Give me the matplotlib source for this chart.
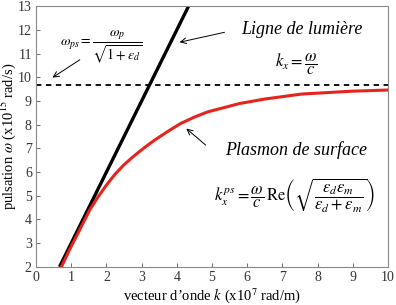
import matplotlib
matplotlib.use("Agg")
import matplotlib.pyplot as plt

plt.rcParams['font.family'] = ['Liberation Serif', 'DejaVu Serif']
plt.rcParams['mathtext.fontset'] = 'stix'

# light line  omega = c k
k_light = [2 / 3, 13 / 3]
w_light = [2.0, 13.0]

# surface plasmon dispersion
k_sp = [0.72, 0.95, 1.14, 1.52, 1.76, 2.0, 2.24, 2.48, 2.72, 2.95, 3.16, 3.38,
        3.75, 4.11, 4.5, 4.88, 5.78, 6.5, 7.54, 8.97, 10.0]
w_sp = [2.0, 2.72, 3.27, 4.39, 4.95, 5.45, 5.9, 6.28, 6.6, 6.88, 7.12, 7.36,
        7.72, 8.05, 8.32, 8.54, 8.89, 9.08, 9.29, 9.41, 9.46]

w_ps = 9.67

xticks = list(range(0, 11))
yticks = list(range(2, 14))

fig = plt.figure(figsize=(3.96, 3.05), dpi=100)
ax = fig.add_axes([0.091, 0.125, 0.889, 0.855])

ax.plot(k_light, w_light, color='black', lw=2.4, solid_capstyle='butt')
ax.plot(k_sp, w_sp, color='#e8221c', lw=2.2, solid_joinstyle='round')
ax.axhline(w_ps, color='black', lw=1.3, ls=(0, (3, 2.5)))

ax.set_xlim(0, 10)
ax.set_ylim(2, 13)
ax.set_xticks(xticks)
ax.set_yticks(yticks)
ax.tick_params(direction='in', length=3, width=0.6, labelsize=10,
               colors='#555555', labelcolor='#333333', pad=3)
for s in ax.spines.values():
    s.set_color('#888888')
    s.set_linewidth(0.8)

ax.set_xlabel(r"vecteur d’onde $k$ (x10$^{7}$ rad/m)", fontsize=10.5)
ax.set_ylabel(r"pulsation $\omega$ (x10$^{15}$ rad/s)", fontsize=10.5)
ax.xaxis.set_label_coords(0.5, -0.075)
ax.yaxis.set_label_coords(-0.05, 0.5)

# annotations
ax.text(1.86, 11.27, r"$\omega_{ps}=\dfrac{\omega_p}{\sqrt{1+\varepsilon_d}}$",
        fontsize=10, ha='center', va='center')
ax.annotate("", xy=(0.4, 9.92), xytext=(1.31, 10.8),
            arrowprops=dict(arrowstyle='->', lw=0.7, color='black'))

ax.text(7.55, 12.0, "Ligne de lumière", fontsize=13, style='italic',
        ha='center', va='center')
ax.annotate("", xy=(4.0, 11.45), xytext=(5.43, 11.92),
            arrowprops=dict(arrowstyle='->', lw=0.7, color='black'))
ax.text(7.4, 10.55, r"$k_x=\dfrac{\omega}{c}$", fontsize=12,
        ha='center', va='center')

ax.text(7.4, 6.92, "Plasmon de surface", fontsize=13, style='italic',
        ha='center', va='center')
ax.annotate("", xy=(4.21, 7.91), xytext=(4.88, 7.06),
            arrowprops=dict(arrowstyle='->', lw=0.7, color='black'))
ax.text(7.33, 5.0,
        r"$k_x^{ps}=\dfrac{\omega}{c}\,\mathrm{Re}\left(\sqrt{\dfrac{\varepsilon_d\varepsilon_m}{\varepsilon_d+\varepsilon_m}}\right)$",
        fontsize=12, ha='center', va='center')

fig.savefig("out.png", dpi=100)
